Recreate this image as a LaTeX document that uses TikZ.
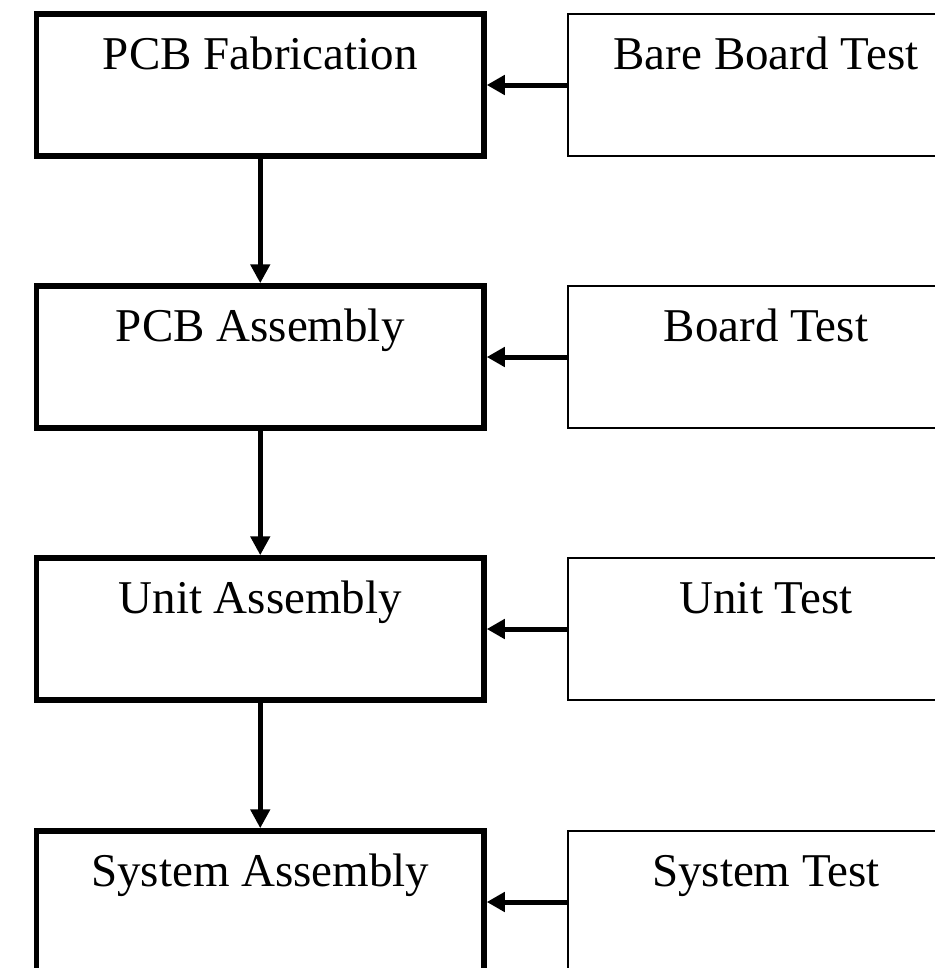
\documentclass[tikz,border=0pt]{standalone}
\usepackage{fontspec}
\setmainfont{Liberation Serif}
\usetikzlibrary{arrows.meta}
\tikzset{
  stagebox/.style={draw=black, line width=5.5bp, rectangle, inner sep=0pt,
    minimum width=447.5bp, text height=55.5bp, text depth=86.5bp,
    font=\fontsize{47bp}{56bp}\selectfont},
  testbox/.style={draw=black, line width=1.7bp, rectangle, inner sep=0pt,
    minimum width=396bp, text height=55bp, text depth=87bp,
    font=\fontsize{47bp}{56bp}\selectfont},
  flow/.style={line width=5.3bp, -{Triangle[length=19bp,width=19bp]}},
  feed/.style={line width=5bp, -{Triangle[length=18bp,width=19bp]}}
}
\begin{document}
\begin{tikzpicture}[x=1bp,y=-1bp]
\useasboundingbox (0,0) rectangle (935,968);
\clip (0,0) rectangle (935,968);
\node[stagebox] (a1) at (260.25,85) {PCB Fabrication};
\node[stagebox] (a2) at (260.25,357) {PCB Assembly};
\node[stagebox] (a3) at (260.25,629) {Unit Assembly};
\node[stagebox] (a4) at (260.25,902) {System Assembly};
\node[testbox] (t1) at (766,85) {Bare Board Test};
\node[testbox] (t2) at (766,357) {Board Test};
\node[testbox] (t3) at (766,629) {Unit Test};
\node[testbox] (t4) at (766,902) {System Test};
\draw[flow] (a1.south) -- (a2.north);
\draw[flow] (a2.south) -- (a3.north);
\draw[flow] (a3.south) -- (a4.north);
\draw[feed] (t1.west) -- (a1.east);
\draw[feed] (t2.west) -- (a2.east);
\draw[feed] (t3.west) -- (a3.east);
\draw[feed] (t4.west) -- (a4.east);
\end{tikzpicture}
\end{document}
